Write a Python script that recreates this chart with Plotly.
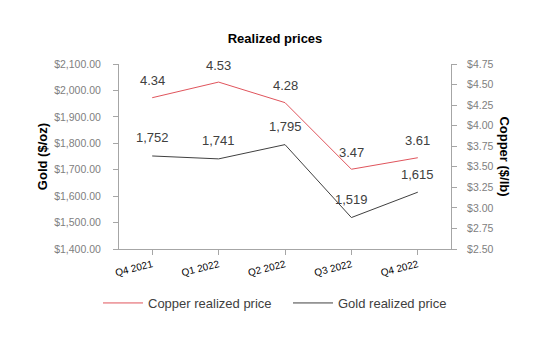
import plotly.graph_objects as go

quarters = ["Q4 2021", "Q1 2022", "Q2 2022", "Q3 2022", "Q4 2022"]
copper = [4.34, 4.53, 4.28, 3.47, 3.61]
gold = [1752, 1741, 1795, 1519, 1615]
copper_labels = ["4.34", "4.53", "4.28", "3.47", "3.61"]
gold_labels = ["1,752", "1,741", "1,795", "1,519", "1,615"]

FONT = "Liberation Sans, Arial, sans-serif"
RED = "#e0545c"
DARK = "#404040"
AXIS = "#a6a6a6"

fig = go.Figure()
fig.add_trace(go.Scatter(x=quarters, y=copper, name="Copper realized price", mode="lines",
                         line=dict(color=RED, width=1), yaxis="y2", legend="legend",
                         showlegend=True))
fig.add_trace(go.Scatter(x=quarters, y=gold, name="Gold realized price", mode="lines",
                         line=dict(color=DARK, width=1), yaxis="y", legend="legend2",
                         showlegend=True))

ann = []
for q, v, t in zip(quarters, copper, copper_labels):
    ann.append(dict(x=q, y=v, xref="x", yref="y2", text=t, showarrow=False, yshift=17,
                    font=dict(size=13, color=DARK, family=FONT)))
for q, v, t in zip(quarters, gold, gold_labels):
    ann.append(dict(x=q, y=v, xref="x", yref="y", text=t, showarrow=False, yshift=18,
                    font=dict(size=13, color=DARK, family=FONT)))
ann.append(dict(xref="x domain", yref="y domain", x=-0.23, y=0.5, text="<b>Gold ($/oz)</b>",
                showarrow=False, textangle=-90, xanchor="center", yanchor="middle",
                font=dict(size=13, color="#000000", family=FONT)))
ann.append(dict(xref="x domain", yref="y domain", x=1.16, y=0.5, text="<b>Copper ($/lb)</b>",
                showarrow=False, textangle=90, xanchor="center", yanchor="middle",
                font=dict(size=13, color="#000000", family=FONT)))

leg_common = dict(orientation="h", xref="container", xanchor="left",
                  yref="container", y=(350 - 303) / 350, yanchor="middle",
                  font=dict(size=13, color=DARK, family=FONT), itemwidth=40,
                  bgcolor="rgba(0,0,0,0)")

fig.update_layout(
    width=550, height=350,
    showlegend=True,
    margin=dict(l=119, r=99, t=64, b=101, autoexpand=False),
    paper_bgcolor="white", plot_bgcolor="white",
    font=dict(family=FONT, color=DARK),
    title=dict(text="<b>Realized prices</b>", x=0.5, xanchor="center", y=1 - 38 / 350, yanchor="middle",
               font=dict(size=13, color="#000000", family=FONT)),
    xaxis=dict(type="category", range=[-0.5, 4.5], showgrid=False, showline=True, linecolor=AXIS,
               ticks="outside", ticklen=5, tickcolor=AXIS, tickangle=-14,
               tickfont=dict(size=10, color="#000000", family=FONT)),
    yaxis=dict(range=[1400, 2100], dtick=100, tickformat="$,.2f", showgrid=False, showline=True,
               linecolor=AXIS, ticks="outside", ticklen=5, tickcolor=AXIS, zeroline=False,
               ticklabelstandoff=10,
               tickfont=dict(size=10.5, color="#808080", family=FONT)),
    yaxis2=dict(range=[2.5, 4.75], dtick=0.25, tickformat="$.2f", overlaying="y", side="right",
                showgrid=False, showline=True, linecolor=AXIS, ticks="outside", ticklen=5,
                tickcolor=AXIS, zeroline=False, ticklabelstandoff=8,
                tickfont=dict(size=10.5, color="#808080", family=FONT)),
    legend=dict(x=98 / 550, **leg_common),
    legend2=dict(x=288 / 550, **leg_common),
    annotations=ann,
)

fig.write_html("out.html")
